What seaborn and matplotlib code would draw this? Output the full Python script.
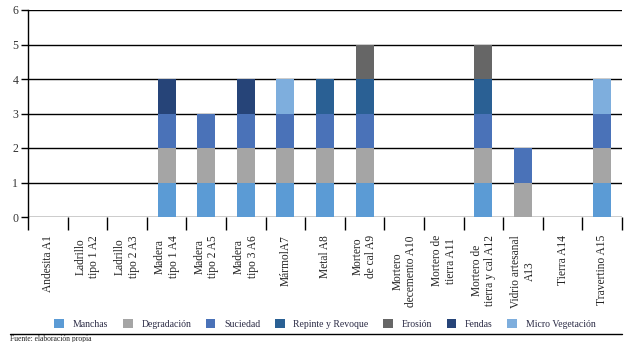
import numpy as np
import pandas as pd
import matplotlib
matplotlib.use("Agg")
import matplotlib.pyplot as plt
from matplotlib.patches import Patch
from matplotlib.lines import Line2D
import seaborn as sns

# categories (materials) and counts of each defect
materials = [
    "Andesita A1", "Ladrillo\ntipo 1 A2", "Ladrillo\ntipo 2 A3", "Madera\ntipo 1 A4",
    "Madera\ntipo 2 A5", "Madera\ntipo 3 A6", "MármolA7", "Metal A8",
    "Mortero\nde cal A9", "Mortero\ndecemento A10", "Mortero de\ntierra A11",
    "Mortero de\ntierra y cal A12", "Vidrio artesanal\nA13", "Tierra A14", "Travertino A15",
]
manchas = [0, 0, 0, 1, 1, 1, 1, 1, 1, 0, 0, 1, 0, 0, 1]
degradacion = [0, 0, 0, 1, 1, 1, 1, 1, 1, 0, 0, 1, 1, 0, 1]
suciedad = [0, 0, 0, 1, 1, 1, 1, 1, 1, 0, 0, 1, 1, 0, 1]
repinte = [0, 0, 0, 0, 0, 0, 0, 1, 1, 0, 0, 1, 0, 0, 0]
erosion = [0, 0, 0, 0, 0, 0, 0, 0, 1, 0, 0, 1, 0, 0, 0]
fendas = [0, 0, 0, 1, 0, 1, 0, 0, 0, 0, 0, 0, 0, 0, 0]
micro_veg = [0, 0, 0, 0, 0, 0, 1, 0, 0, 0, 0, 0, 0, 0, 1]

series = ["Manchas", "Degradación", "Suciedad", "Repinte y Revoque",
          "Erosión", "Fendas", "Micro Vegetación"]
colors = ["#5b9bd5", "#a5a5a5", "#4a72b8", "#2a6094", "#666666", "#264478", "#7eaedd"]

df = pd.DataFrame(
    [manchas, degradacion, suciedad, repinte, erosion, fendas, micro_veg],
    index=series, columns=materials,
).T
cum = df.cumsum(axis=1)

sns.set_style("white")
plt.rcParams["font.family"] = ["Liberation Serif", "DejaVu Serif"]

fig = plt.figure(figsize=(6.28, 3.42), dpi=100)
ax = fig.add_axes([28 / 628, 1 - 217 / 342, 594 / 628, 207 / 342])

# draw stacked bars top-down, each layer as the running total
for name, col in zip(series[::-1], colors[::-1]):
    sns.barplot(x=materials, y=cum[name].values, color=col, width=0.45,
                saturation=1, linewidth=0, edgecolor="none", ax=ax, zorder=3)

ax.set_xlim(-0.5, len(materials) - 0.5)
ax.set_ylim(0, 6)
ax.set_yticks(range(7))
ax.grid(axis="y", color="black", linewidth=1)
ax.set_axisbelow(True)
for s in ["top", "right", "bottom"]:
    ax.spines[s].set_visible(False)
ax.spines["left"].set_color("black")
ax.spines["left"].set_linewidth(1)
ax.tick_params(axis="y", length=5, width=1, color="black", labelsize=8.5,
               labelcolor="#333333", pad=2, left=True)

# category separators below the axis
ax.set_xticks(np.arange(-0.5, len(materials), 1), minor=True)
ax.set_xticks(range(len(materials)))
ax.tick_params(axis="x", which="minor", length=9, width=1, color="black", bottom=True)
ax.tick_params(axis="x", which="major", length=0, pad=13)
ax.set_xticklabels(materials, rotation=90, fontsize=8.3, va="top", ha="center",
                   multialignment="center", color="#222222")
ax.set_xlabel("")
ax.set_ylabel("")

handles = [Patch(facecolor=c, edgecolor="none") for c in colors]
fig.legend(handles, series, loc="center", bbox_to_anchor=(325 / 628, 1 - 324 / 342),
           ncol=7, frameon=False, fontsize=7, handlelength=1.0, handleheight=1.0,
           columnspacing=1.5, handletextpad=0.9, labelcolor="#2a2a44")

fig.add_artist(Line2D([10 / 628, 622 / 628], [1 - 334 / 342] * 2, color="black",
                      linewidth=1, transform=fig.transFigure))
fig.text(10 / 628, 1 - 335 / 342, "Fuente: elaboración propia", fontsize=5.5,
         va="top", ha="left", color="#222222")

fig.savefig("out.png", dpi=100)
